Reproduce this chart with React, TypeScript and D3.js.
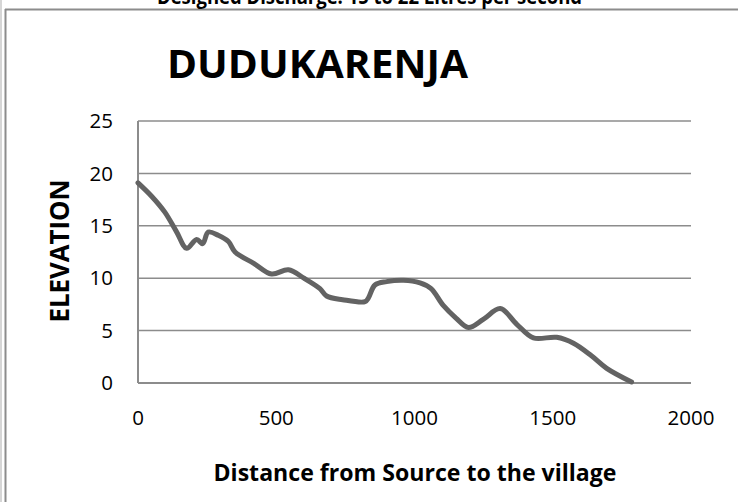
import { line, scaleLinear, curveCatmullRom } from 'd3'

// distance from source (m) and elevation
const distance = [0, 50, 97, 140, 176, 212, 234, 254, 290, 327, 351, 420, 483, 544, 600, 658, 682, 740, 821, 833, 857, 899, 960, 1020, 1060, 1104, 1150, 1195, 1250, 1310, 1370, 1430, 1514, 1575, 1640, 1695, 1785]
const elevation = [19.1, 17.8, 16.3, 14.4, 12.85, 13.7, 13.3, 14.4, 14.1, 13.5, 12.5, 11.4, 10.4, 10.8, 10.0, 9.0, 8.3, 7.95, 7.76, 8.1, 9.35, 9.67, 9.8, 9.55, 9.0, 7.4, 6.2, 5.3, 6.1, 7.1, 5.6, 4.3, 4.36, 3.8, 2.6, 1.4, 0.1]
const xTicks = [0, 500, 1000, 1500, 2000]
const yTicks = [0, 5, 10, 15, 20, 25]

const title = 'DUDUKARENJA'
const subtitle = 'Designed Discharge: 15 to 22 Litres per second'
const xTitle = 'Distance from Source to the village'
const yTitle = 'ELEVATION'

export default function App() {
  const width = 738
  const height = 502
  const font = '"Open Sans", "Noto Sans", sans-serif'
  const grid = '#8c8c8c'
  const xScale = scaleLinear().domain([0, 2000]).range([138, 691])
  const yScale = scaleLinear().domain([0, 25]).range([383, 121])
  const points = distance.map((d, i) => [d, elevation[i]] as [number, number])
  const path = line<[number, number]>()
    .x((p) => xScale(p[0]))
    .y((p) => yScale(p[1]))
    .curve(curveCatmullRom.alpha(0.5))(points)

  return (
    <svg width={width} height={height} style={{ position: 'absolute', left: 0, top: 0, background: '#fff' }} fontFamily={font}>
      <rect width={width} height={height} fill="#ffffff" />
      {/* outer frame, subtitle sits above it and is clipped by the page edge as in the source */}
      <line x1="1" x2="1" y1="0" y2={height} stroke="#c8c8c8" strokeWidth="1.5" />
      <line x1="5.5" x2="5.5" y1="9" y2={height} stroke="#8c8c8c" strokeWidth="2" />
      <line x1="5" x2={width} y1="9.5" y2="9.5" stroke="#8c8c8c" strokeWidth="2" />
      <text x="157" y="4" fontSize="22" fontWeight="bold" fill="#000" textLength="425" lengthAdjust="spacingAndGlyphs">{subtitle}</text>

      <text x="167" y="78" fontSize="40" fontWeight="bold" fill="#000" textLength="301" lengthAdjust="spacingAndGlyphs">{title}</text>

      {yTicks.filter((t) => t > 0).map((t) => (
        <line key={t} x1={xScale(0)} x2={xScale(2000)} y1={yScale(t)} y2={yScale(t)} stroke={grid} strokeWidth="1.5" />
      ))}
      <line x1={xScale(0)} x2={xScale(0)} y1={yScale(25)} y2={yScale(0)} stroke={grid} strokeWidth="2" />
      <line x1={xScale(0)} x2={xScale(2000)} y1={yScale(0)} y2={yScale(0)} stroke={grid} strokeWidth="2" />

      {yTicks.map((t) => (
        <text key={t} x="113" y={yScale(t)} dy="0.35em" fontSize="20.5" textAnchor="end" fill="#000">{t}</text>
      ))}
      {xTicks.map((t) => (
        <text key={t} x={xScale(t)} y="418" dy="0.35em" fontSize="20.5" textAnchor="middle" fill="#000">{t}</text>
      ))}

      <path d={path ?? ''} fill="none" stroke="#636363" strokeWidth="5" strokeLinecap="round" strokeLinejoin="round" />

      <text x="415" y="481" fontSize="24" fontWeight="bold" textAnchor="middle" fill="#000" textLength="403" lengthAdjust="spacingAndGlyphs">{xTitle}</text>
      <text transform="translate(69,251) rotate(-90)" fontSize="26" fontWeight="bold" textAnchor="middle" fill="#000" textLength="143" lengthAdjust="spacingAndGlyphs">{yTitle}</text>
    </svg>
  )
}
